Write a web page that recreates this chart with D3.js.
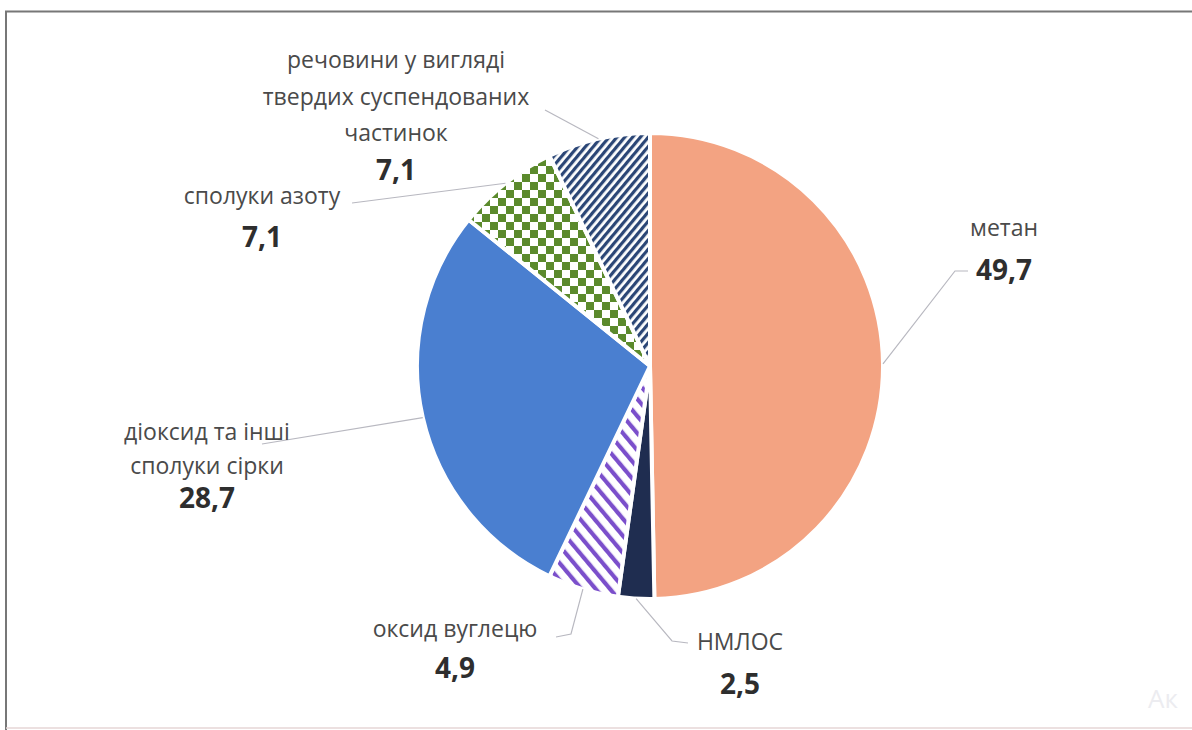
<!DOCTYPE html>
<html><head><meta charset="utf-8">
<script src="https://cdn.jsdelivr.net/npm/d3@7"></script>
<style>body{margin:0;background:#fff}svg{display:block}</style>
</head><body><svg id="c" width="1192" height="730"></svg>
<script>
const categories = ["метан","НМЛОС","оксид вуглецю","діоксид та інші сполуки сірки","сполуки азоту","речовини у вигляді твердих суспендованих частинок"];
const values = [49.7, 2.5, 4.9, 28.7, 7.1, 7.1];
const valueLabels = ["49,7","2,5","4,9","28,7","7,1","7,1"];
const labelLines = [["метан"],["НМЛОС"],["оксид вуглецю"],["діоксид та інші","сполуки сірки"],["сполуки азоту"],["речовини у вигляді","твердих суспендованих","частинок"]];

// layout (positions only)
const layout = [
  {x:1004, y:236, elbow:[955,271], end:[968,271]},
  {x:740, y:650, elbow:[672,641], end:[688,643]},
  {x:455, y:637, elbow:[571,634], end:[556,637]},
  {x:207, y:440, elbow:[262,444], end:[262,444]},
  {x:262, y:204, elbow:[352,203], end:[352,203]},
  {x:396, y:68,  elbow:[545,110], end:[545,110]}
];
const lineGap = [0, 0, 0, 34, 0, 36.5];
const valueOffset = [44, 44, 41, 34, 43, 39];

const svg = d3.select("#c");
const defs = svg.append("defs");
let p = defs.append("pattern").attr("id","pNavy").attr("patternUnits","userSpaceOnUse")
  .attr("width",6).attr("height",6).attr("patternTransform","rotate(40)");
p.append("rect").attr("width",6).attr("height",6).attr("fill","#fff");
p.append("rect").attr("width",3.2).attr("height",6).attr("fill","#2b4676");
p = defs.append("pattern").attr("id","pPurple").attr("patternUnits","userSpaceOnUse")
  .attr("width",11).attr("height",11).attr("patternTransform","rotate(-40)");
p.append("rect").attr("width",11).attr("height",11).attr("fill","#fff");
p.append("rect").attr("width",4.2).attr("height",11).attr("fill","#7b4fcb");
p = defs.append("pattern").attr("id","pGreen").attr("patternUnits","userSpaceOnUse")
  .attr("width",16).attr("height",16);
p.append("rect").attr("width",16).attr("height",16).attr("fill","#fff");
p.append("rect").attr("width",8).attr("height",8).attr("fill","#5b8a2c");
p.append("rect").attr("x",8).attr("y",8).attr("width",8).attr("height",8).attr("fill","#5b8a2c");

const fills = ["#f3a382","#1f2d50","url(#pPurple)","#4a7fd0","url(#pGreen)","url(#pNavy)"];

svg.append("path").attr("d","M6,730 L6,11.5 L1192,11.5").attr("fill","none").attr("stroke","#777").attr("stroke-width",2);
svg.append("line").attr("x1",6).attr("x2",1192).attr("y1",728).attr("y2",728).attr("stroke","#e6d6d6").attr("stroke-width",1.5);

const cx = 650, cy = 366, R = 233;
const pie = d3.pie().sort(null).value(d=>d)(values);
const arc = d3.arc().innerRadius(0).outerRadius(R);
const edge = d3.arc().innerRadius(R).outerRadius(R);
const g = svg.append("g").attr("transform",`translate(${cx},${cy})`);
g.selectAll("path.s").data(pie).join("path").attr("class","s")
  .attr("d",arc).attr("fill",(d,i)=>fills[i]).attr("stroke","#fff").attr("stroke-width",4).attr("stroke-linejoin","round");

pie.forEach((d,i)=>{
  const c = edge.centroid(d);
  const L = layout[i];
  const pts = [[cx+c[0],cy+c[1]], L.elbow, L.end];
  svg.append("path").attr("d", d3.line()(pts)).attr("fill","none").attr("stroke","#b8b8c0").attr("stroke-width",1.2);
});

const font = "'Open Sans', sans-serif";
labelLines.forEach((lines,i)=>{
  const L = layout[i];
  const gap = lineGap[i] || 0;
  lines.forEach((t,j)=>{
    svg.append("text").attr("x",L.x).attr("y",L.y + j*gap).attr("text-anchor","middle")
      .attr("font-family",font).attr("font-size",23).attr("fill","#4a4a4a").text(t);
  });
  svg.append("text").attr("x",L.x).attr("y",L.y + (lines.length-1)*gap + valueOffset[i])
    .attr("text-anchor","middle").attr("font-family",font).attr("font-weight","bold")
    .attr("font-size",28).attr("fill","#2e2e2e").text(valueLabels[i]);
});
svg.append("text").attr("x",1148).attr("y",708).attr("font-family",font).attr("font-size",26).attr("fill","#ececf0").text("Ак");
</script></body></html>
